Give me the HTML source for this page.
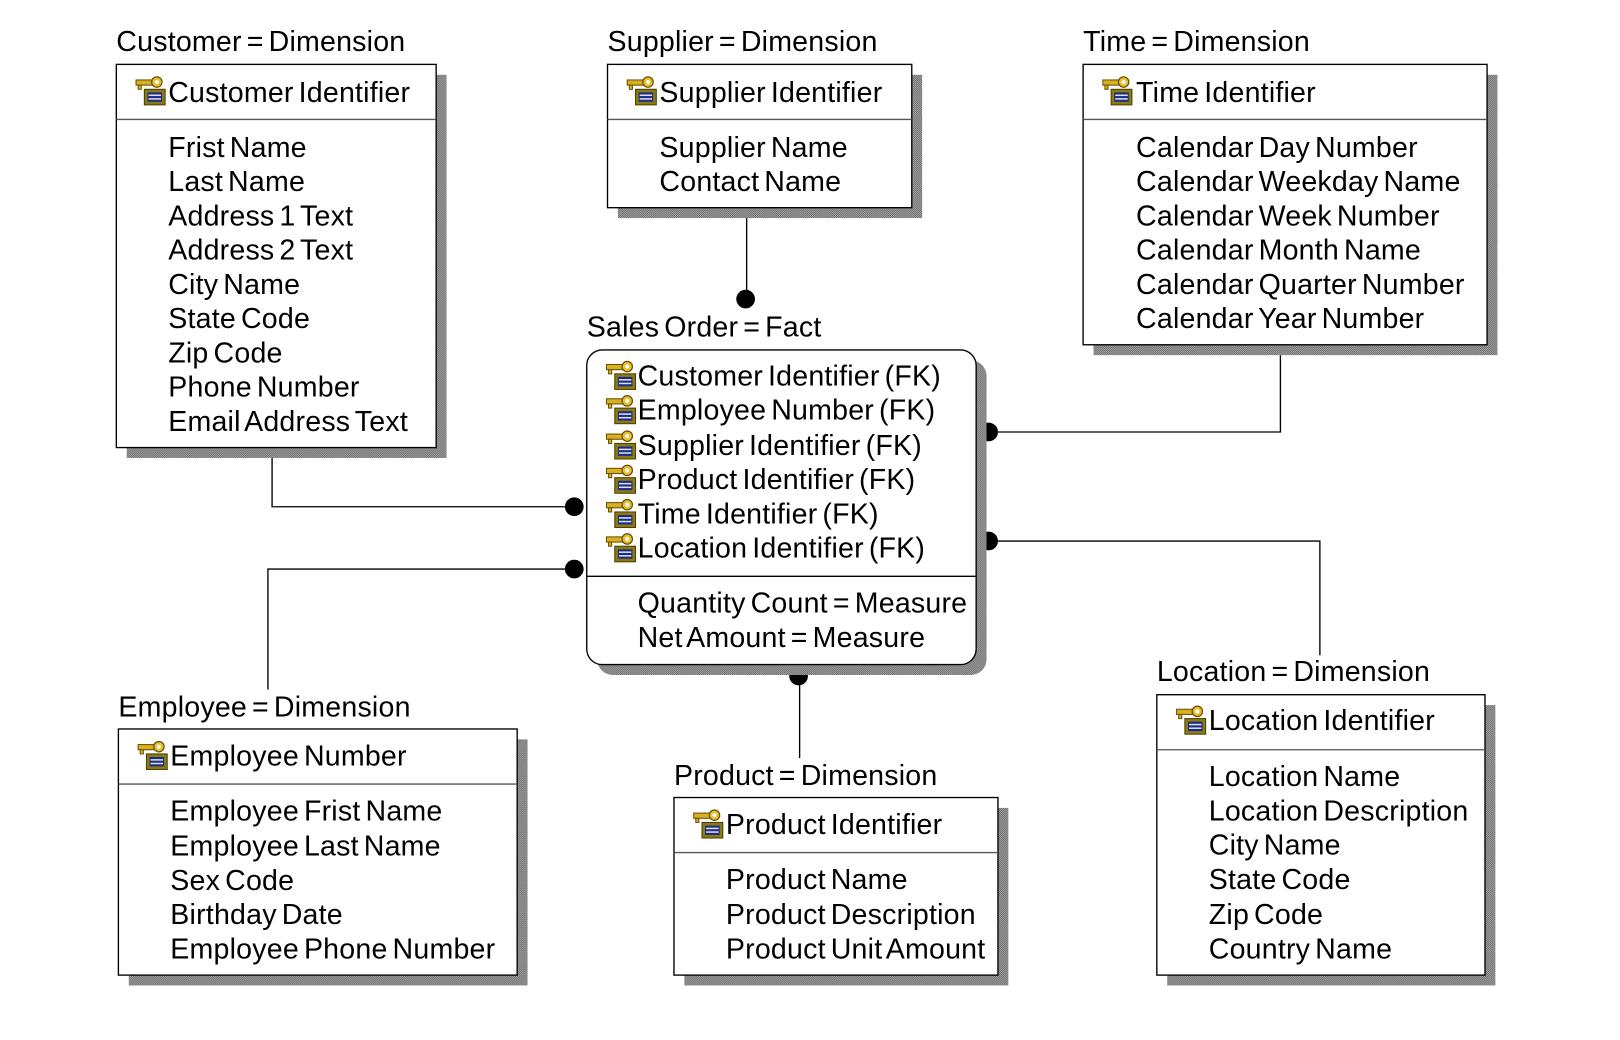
<!DOCTYPE html>
<html><head><meta charset="utf-8"><style>
html,body{margin:0;padding:0;background:#fff;width:1620px;height:1040px;overflow:hidden}
text{font-family:"Liberation Sans",Arial,sans-serif;font-size:27.5px;fill:#000;word-spacing:-3px;letter-spacing:0.2px}
</style></head><body>
<svg width="1620" height="1040" viewBox="0 0 1560 1001.5" xmlns="http://www.w3.org/2000/svg">
<defs>
<pattern id="hp" width="2" height="2" patternUnits="userSpaceOnUse">
<rect width="2" height="2" fill="#b0b0b0"/><rect width="1" height="1" fill="#606060"/><rect x="1" y="1" width="1" height="1" fill="#606060"/>
</pattern>
<g id="key">
<rect x="8" y="12" width="20" height="15" fill="#8a7a10" stroke="#4a3e00" stroke-width="1"/>
<rect x="11" y="15" width="14" height="9" fill="#1a2a8a"/>
<rect x="12" y="17" width="12" height="1.5" fill="#ddd"/><rect x="12" y="20.5" width="12" height="1.5" fill="#ddd"/>
<rect x="0" y="3" width="16" height="5" fill="#d8b020" stroke="#6a5000" stroke-width="1"/>
<rect x="2" y="8" width="3" height="4" fill="#d8b020" stroke="#6a5000" stroke-width="1"/>
<circle cx="20" cy="5" r="5" fill="#e8c030" stroke="#6a5000" stroke-width="1.2"/>
<circle cx="20" cy="5" r="2" fill="#fff"/>
</g>
</defs>

<!-- connectors -->
<g stroke="#000" stroke-width="1.3" fill="none">
<polyline points="719,200 719,288"/>
<polyline points="262,431 262,488 553,488"/>
<polyline points="258,664 258,548 553,548"/>
<polyline points="1233,342 1233,416 953,416"/>
<polyline points="1271,631 1271,521 953,521"/>
<polyline points="770,730 770,652"/>
</g>
<g fill="#000">
<circle cx="718" cy="288" r="9"/>
<circle cx="553" cy="488" r="9"/>
<circle cx="553" cy="548" r="9"/>
<circle cx="952" cy="416" r="9"/>
<circle cx="952" cy="521" r="9"/>
<circle cx="769" cy="651" r="9"/>
</g>

<!-- Customer -->
<text x="112" y="49">Customer = Dimension</text>
<rect x="122" y="72" width="308" height="369" fill="url(#hp)"/>
<rect x="112" y="62" width="308" height="369" fill="#fff" stroke="#000" stroke-width="1.3"/>
<line x1="112" y1="115" x2="420" y2="115" stroke="#555" stroke-width="1.3"/>
<use href="#key" x="131" y="74"/>
<text x="162" y="98">Customer Identifier</text>
<text x="162" y="151">Frist Name</text><text x="162" y="184">Last Name</text><text x="162" y="217">Address 1 Text</text>
<text x="162" y="250">Address 2 Text</text><text x="162" y="283">City Name</text><text x="162" y="316">State Code</text>
<text x="162" y="349">Zip Code</text><text x="162" y="382">Phone Number</text><text x="162" y="415">Email Address Text</text>

<!-- Supplier -->
<text x="585" y="49">Supplier = Dimension</text>
<rect x="595" y="72" width="293" height="138" fill="url(#hp)"/>
<rect x="585" y="62" width="293" height="138" fill="#fff" stroke="#000" stroke-width="1.3"/>
<line x1="585" y1="115" x2="878" y2="115" stroke="#555" stroke-width="1.3"/>
<use href="#key" x="604" y="74"/>
<text x="635" y="98">Supplier Identifier</text>
<text x="635" y="151">Supplier Name</text><text x="635" y="184">Contact Name</text>

<!-- Time -->
<text x="1043" y="49">Time = Dimension</text>
<rect x="1053" y="72" width="389" height="270" fill="url(#hp)"/>
<rect x="1043" y="62" width="389" height="270" fill="#fff" stroke="#000" stroke-width="1.3"/>
<line x1="1043" y1="115" x2="1432" y2="115" stroke="#555" stroke-width="1.3"/>
<use href="#key" x="1062" y="74"/>
<text x="1094" y="98">Time Identifier</text>
<text x="1094" y="151">Calendar Day Number</text><text x="1094" y="184">Calendar Weekday Name</text>
<text x="1094" y="217">Calendar Week Number</text><text x="1094" y="250">Calendar Month Name</text>
<text x="1094" y="283">Calendar Quarter Number</text><text x="1094" y="316">Calendar Year Number</text>

<!-- Sales Order -->
<text x="565" y="324">Sales Order = Fact</text>
<rect x="575" y="347" width="375" height="303" rx="15" fill="url(#hp)"/>
<rect x="565" y="337" width="375" height="303" rx="15" fill="#fff" stroke="#000" stroke-width="1.3"/>
<line x1="565" y1="555" x2="940" y2="555" stroke="#000" stroke-width="1.3"/>
<use href="#key" x="584" y="348"/><text x="614" y="371">Customer Identifier (FK)</text>
<use href="#key" x="584" y="381"/><text x="614" y="404">Employee Number (FK)</text>
<use href="#key" x="584" y="415"/><text x="614" y="438">Supplier Identifier (FK)</text>
<use href="#key" x="584" y="448"/><text x="614" y="471">Product Identifier (FK)</text>
<use href="#key" x="584" y="481"/><text x="614" y="504">Time Identifier (FK)</text>
<use href="#key" x="584" y="514"/><text x="614" y="537">Location Identifier (FK)</text>
<text x="614" y="590">Quantity Count = Measure</text>
<text x="614" y="623">Net Amount = Measure</text>

<!-- Employee -->
<text x="114" y="690">Employee = Dimension</text>
<rect x="124" y="712" width="384" height="237" fill="url(#hp)"/>
<rect x="114" y="702" width="384" height="237" fill="#fff" stroke="#000" stroke-width="1.3"/>
<line x1="114" y1="755" x2="498" y2="755" stroke="#555" stroke-width="1.3"/>
<use href="#key" x="133" y="714"/>
<text x="164" y="737">Employee Number</text>
<text x="164" y="790">Employee Frist Name</text><text x="164" y="824">Employee Last Name</text>
<text x="164" y="857">Sex Code</text><text x="164" y="890">Birthday Date</text><text x="164" y="923">Employee Phone Number</text>

<!-- Product -->
<text x="649" y="756">Product = Dimension</text>
<rect x="659" y="778" width="312" height="171" fill="url(#hp)"/>
<rect x="649" y="768" width="312" height="171" fill="#fff" stroke="#000" stroke-width="1.3"/>
<line x1="649" y1="821" x2="961" y2="821" stroke="#555" stroke-width="1.3"/>
<use href="#key" x="668" y="780"/>
<text x="699" y="803">Product Identifier</text>
<text x="699" y="856">Product Name</text><text x="699" y="890">Product Description</text><text x="699" y="923">Product Unit Amount</text>

<!-- Location -->
<text x="1114" y="656">Location = Dimension</text>
<rect x="1124" y="679" width="316" height="270" fill="url(#hp)"/>
<rect x="1114" y="669" width="316" height="270" fill="#fff" stroke="#000" stroke-width="1.3"/>
<line x1="1114" y1="722" x2="1430" y2="722" stroke="#555" stroke-width="1.3"/>
<use href="#key" x="1133" y="680"/>
<text x="1164" y="703">Location Identifier</text>
<text x="1164" y="757">Location Name</text><text x="1164" y="790">Location Description</text>
<text x="1164" y="823">City Name</text><text x="1164" y="856">State Code</text>
<text x="1164" y="890">Zip Code</text><text x="1164" y="923">Country Name</text>
</svg>
</body></html>
